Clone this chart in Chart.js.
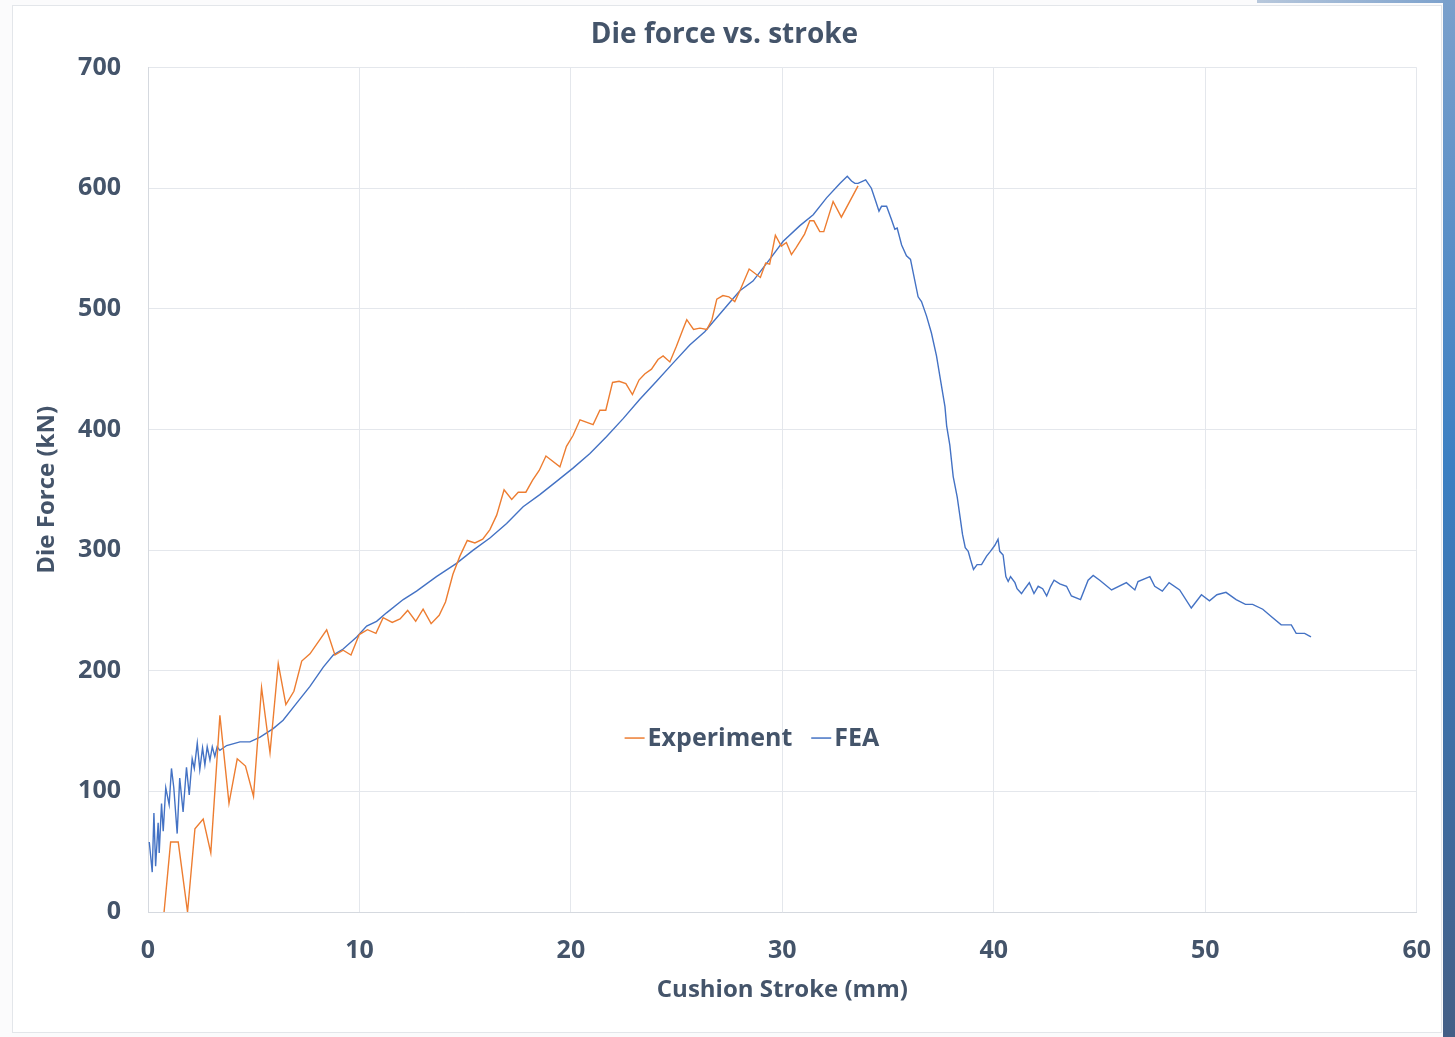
<!DOCTYPE html>
<html>
<head>
<meta charset="utf-8">
<script src="https://cdn.jsdelivr.net/npm/chart.js@4.4.0/dist/chart.umd.min.js"></script>
<style>
  html, body { margin: 0; padding: 0; background: #ffffff; }
  #wrap { position: relative; width: 1455px; height: 1037px; overflow: hidden; background: #fbfbfc; }
  #card { position: absolute; left: 12px; top: 5px; width: 1430px; height: 1028px; background: #ffffff; border: 1px solid #e3e6ea; box-sizing: border-box; }
  #strip { position: absolute; left: 1443px; top: 0; width: 12px; height: 1037px; background: linear-gradient(#7aa0cc, #3b7fc2 45%, #3f6a9c 80%, #445f86); }
  #strip2 { position: absolute; left: 1257px; top: 0; width: 198px; height: 3px; background: linear-gradient(90deg, #b8c8dc, #7aa0cc); }
  canvas { position: absolute; left: 0; top: 0; }
</style>
</head>
<body>
<div id="wrap">
  <div id="card"></div>
  <div id="strip2"></div>
  <div id="strip"></div>
  <canvas id="c" width="1455" height="1037"></canvas>
</div>
<script>
const chartTitle = "Die force vs. stroke";
const xAxisTitle = "Cushion Stroke (mm)";
const yAxisTitle = "Die Force (kN)";
const seriesNames = ["Experiment", "FEA"];
const xTicks = [0, 10, 20, 30, 40, 50, 60];
const yTicks = [0, 100, 200, 300, 400, 500, 600, 700];

// Experiment (stroke mm, force kN)
const expX = [0.76, 1.07, 1.43, 1.87, 2.22, 2.61, 2.97, 3.40, 3.83, 4.22, 4.61, 4.99, 5.37, 5.77, 6.16, 6.52, 6.90, 7.27, 7.66, 8.45, 8.84, 9.23, 9.60, 9.99, 10.38, 10.78, 11.12, 11.55, 11.92, 12.28, 12.66, 13.01, 13.39, 13.77, 14.07, 14.42, 14.75, 15.10, 15.46, 15.83, 16.17, 16.49, 16.84, 17.20, 17.51, 17.87, 18.19, 18.50, 18.82, 19.48, 19.79, 20.10, 20.43, 21.05, 21.37, 21.65, 21.97, 22.28, 22.60, 22.91, 23.22, 23.49, 23.81, 24.12, 24.36, 24.68, 24.99, 25.30, 25.48, 25.80, 26.10, 26.43, 26.67, 26.90, 27.19, 27.47, 27.75, 27.99, 28.43, 28.96, 29.21, 29.40, 29.67, 29.95, 30.19, 30.43, 30.66, 31.05, 31.30, 31.49, 31.77, 31.96, 32.40, 32.79, 33.58];
const expY = [0, 58, 58, 0, 69, 77, 49, 163, 90, 127, 121, 96, 186, 132, 206, 172, 183, 208, 214, 234, 213, 217, 213, 230, 234, 231, 244, 240, 243, 250, 241, 251, 239, 246, 257, 280, 295, 308, 306, 309, 317, 329, 350, 342, 348, 348, 358, 366, 378, 369, 386, 395, 408, 404, 416, 416, 439, 440, 438, 429, 441, 446, 450, 458, 461, 456, 469, 483, 491, 483, 484, 483, 491, 508, 511, 510, 506, 515, 533, 526, 538, 537, 561, 552, 555, 545, 551, 562, 573, 573, 564, 564, 589, 576, 602];

// FEA (stroke mm, force kN)
const feaX = [0.06, 0.20, 0.28, 0.36, 0.48, 0.53, 0.64, 0.72, 0.84, 1.00, 1.11, 1.22, 1.38, 1.50, 1.66, 1.82, 1.95, 2.09, 2.19, 2.33, 2.45, 2.58, 2.69, 2.80, 2.93, 3.04, 3.16, 3.27, 3.40, 3.72, 4.35, 4.82, 5.30, 5.92, 6.39, 7.02, 7.66, 8.29, 8.76, 9.23, 9.87, 10.34, 10.81, 11.28, 12.07, 12.70, 13.64, 14.59, 15.38, 16.17, 16.96, 17.74, 18.53, 19.32, 20.10, 20.90, 21.68, 22.47, 23.26, 24.05, 24.83, 25.62, 26.33, 27.50, 27.99, 28.61, 29.40, 30.04, 30.83, 31.46, 32.09, 32.72, 33.07, 33.27, 33.43, 33.58, 33.94, 34.21, 34.42, 34.57, 34.69, 34.93, 35.16, 35.32, 35.43, 35.64, 35.87, 36.06, 36.42, 36.58, 36.82, 37.05, 37.29, 37.48, 37.69, 37.77, 37.92, 38.08, 38.27, 38.40, 38.52, 38.65, 38.79, 38.90, 39.04, 39.21, 39.42, 39.66, 39.84, 40.05, 40.20, 40.28, 40.44, 40.57, 40.68, 40.79, 41.00, 41.10, 41.31, 41.47, 41.68, 41.90, 42.10, 42.31, 42.50, 42.69, 42.85, 43.12, 43.44, 43.67, 44.10, 44.46, 44.70, 45.01, 45.57, 46.27, 46.67, 46.82, 47.38, 47.61, 47.97, 48.29, 48.79, 49.34, 49.82, 50.20, 50.55, 50.98, 51.46, 51.90, 52.24, 52.72, 53.12, 53.59, 54.07, 54.30, 54.70, 55.00];
const feaY = [58, 33, 82, 38, 74, 49, 90, 67, 103, 89, 119, 103, 65, 111, 83, 120, 97, 127, 119, 140, 118, 136, 122, 137, 126, 137, 129, 137, 134, 138, 141, 141, 145, 152, 159, 173, 187, 203, 213, 218, 228, 237, 241, 248, 259, 266, 278, 289, 300, 310, 322, 336, 346, 357, 368, 380, 394, 409, 425, 440, 455, 470, 481, 505, 515, 523, 541, 556, 569, 578, 592, 604, 610, 606, 604, 604, 607, 600, 589, 581, 585, 585, 574, 566, 567, 553, 544, 541, 510, 506, 494, 480, 461, 441, 419, 403, 387, 361, 344, 328, 313, 302, 299, 292, 284, 288, 288, 295, 299, 304, 309, 299, 296, 278, 274, 278, 273, 268, 264, 268, 273, 264, 270, 268, 262, 270, 275, 272, 270, 262, 259, 275, 279, 275, 267, 273, 267, 274, 278, 270, 266, 273, 267, 252, 263, 258, 263, 265, 259, 255, 255, 251, 245, 238, 238, 231, 231, 228];

const textColor = '#44546A';
const fontFamily = "'Open Sans', 'DejaVu Sans', sans-serif";
const FS = 25;

const expData = expX.map((x, i) => ({ x: x, y: expY[i] }));
const feaData = feaX.map((x, i) => ({ x: x, y: feaY[i] }));

const innerLegend = {
  id: 'innerLegend',
  afterDraw(chart) {
    const ctx = chart.ctx;
    const a = chart.chartArea;
    const ds = chart.data.datasets;
    ctx.save();
    ctx.font = 'bold ' + FS + 'px ' + fontFamily;
    ctx.textBaseline = 'middle';
    const lineLen = 20, gapLT = 3, gapItems = 19;
    let total = 0;
    ds.forEach((d, i) => { total += lineLen + gapLT + ctx.measureText(d.label).width + (i < ds.length - 1 ? gapItems : 0); });
    const cx = a.left + (a.right - a.left) * 0.476;
    const cy = a.top + (a.bottom - a.top) * 0.794;
    let x = cx - total / 2;
    ds.forEach((d, i) => {
      ctx.strokeStyle = d.borderColor;
      ctx.lineWidth = 1.5;
      ctx.beginPath();
      ctx.moveTo(x, cy);
      ctx.lineTo(x + lineLen, cy);
      ctx.stroke();
      x += lineLen + gapLT;
      ctx.fillStyle = textColor;
      ctx.fillText(d.label, x, cy + 1);
      x += ctx.measureText(d.label).width + gapItems;
    });
    ctx.restore();
  }
};

new Chart(document.getElementById('c'), {
  type: 'line',
  data: {
    datasets: [
      { label: seriesNames[0], data: expData, borderColor: '#ED7D31', borderWidth: 1.4, pointRadius: 0, tension: 0, fill: false },
      { label: seriesNames[1], data: feaData, borderColor: '#4472C4', borderWidth: 1.4, pointRadius: 0, tension: 0, fill: false }
    ]
  },
  options: {
    responsive: false,
    animation: false,
    events: [],
    layout: { padding: { left: 32, right: 38, top: 8, bottom: 20 } },
    plugins: {
      legend: { display: false },
      tooltip: { enabled: false },
      title: {
        display: true, text: chartTitle, color: textColor,
        font: { family: fontFamily, size: 28, weight: 'bold', lineHeight: 1.2 },
        padding: { top: 10, bottom: 16 }
      }
    },
    scales: {
      x: {
        type: 'linear', min: 0, max: 60,
        afterBuildTicks: (s) => { s.ticks = xTicks.map(v => ({ value: v })); },
        afterFit: (s) => { s.height = 105; },
        ticks: { color: textColor, font: { family: fontFamily, size: FS, weight: 'bold' }, padding: 24, maxRotation: 0 },
        grid: { color: '#e4e7ec', lineWidth: 1, drawTicks: false },
        border: { color: '#d5d9df' },
        title: { display: true, text: xAxisTitle, color: textColor, font: { family: fontFamily, size: 24, weight: 'bold', lineHeight: 1.2 }, padding: { top: 6, bottom: 12 } }
      },
      y: {
        type: 'linear', min: 0, max: 700,
        afterBuildTicks: (s) => { s.ticks = yTicks.map(v => ({ value: v })); },
        afterFit: (s) => { s.width = 116; },
        ticks: { color: textColor, font: { family: fontFamily, size: FS, weight: 'bold' }, padding: 27 },
        grid: { color: '#e4e7ec', lineWidth: 1, drawTicks: false },
        border: { color: '#d5d9df' },
        title: { display: true, text: yAxisTitle, color: textColor, font: { family: fontFamily, size: 24, weight: 'bold', lineHeight: 1.2 }, padding: { top: 1, bottom: 0 } }
      }
    }
  },
  plugins: [innerLegend]
});
</script>
</body>
</html>
